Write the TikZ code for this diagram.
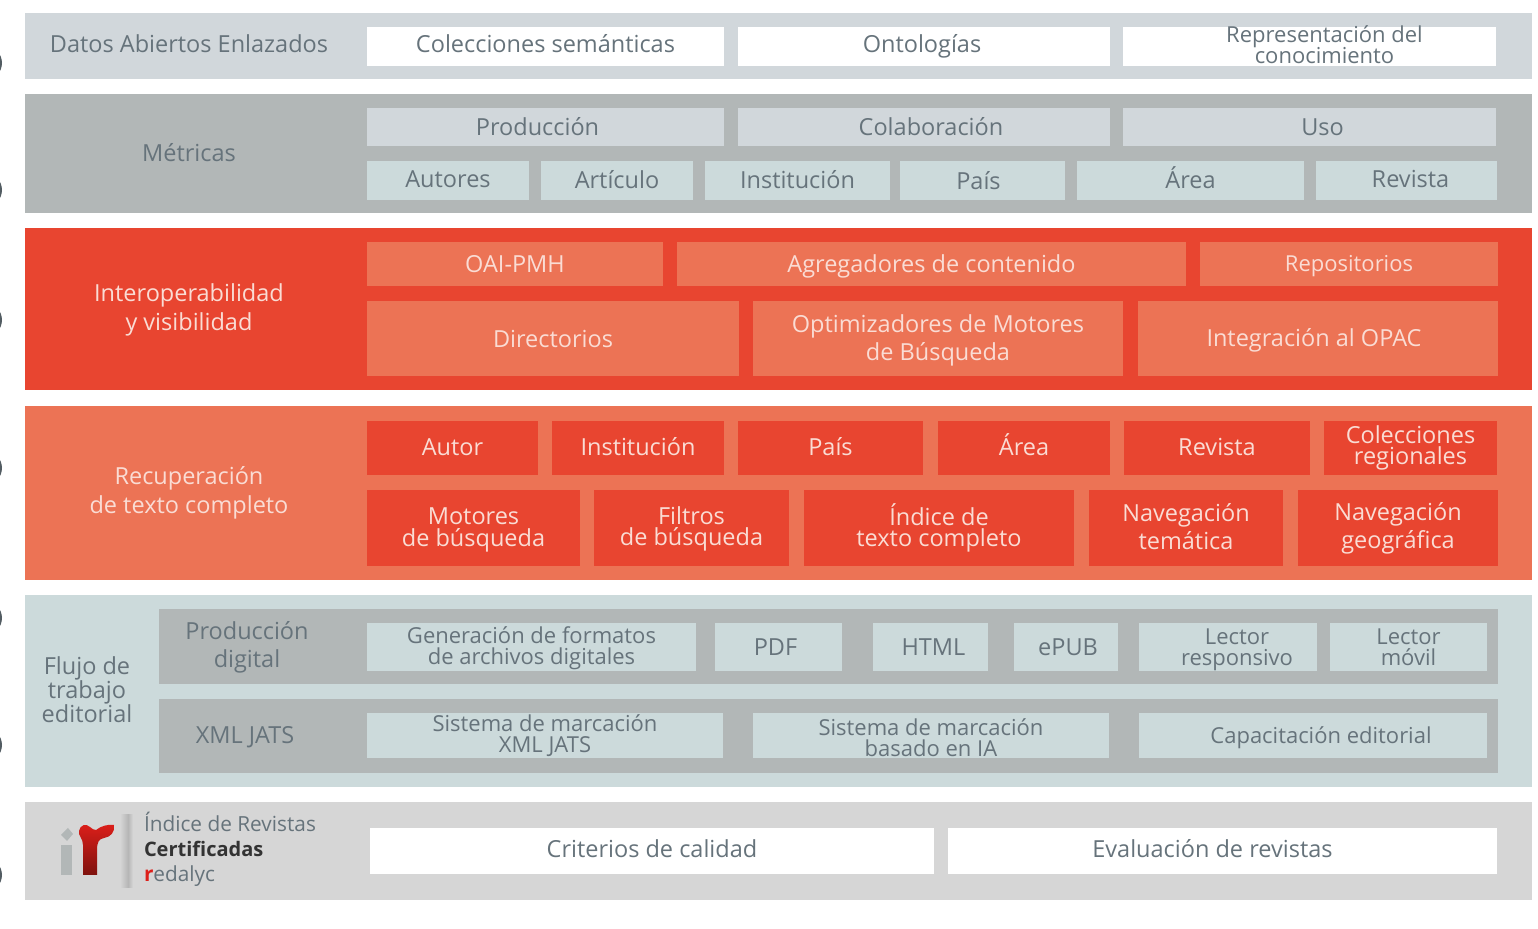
\documentclass[tikz,border=0pt]{standalone}
\usepackage{fontspec}
\setmainfont{Open Sans}
\lineskiplimit=-20pt
\definecolor{dataBand}{HTML}{D1D7DB}
\definecolor{metricBand}{HTML}{B2B7B7}
\definecolor{paleBlue}{HTML}{CCDADB}
\definecolor{redBand}{HTML}{E84530}
\definecolor{salmonBand}{HTML}{EC7355}
\definecolor{certBand}{HTML}{D6D6D6}
\definecolor{textGrey}{HTML}{66737B}
\definecolor{logoRed}{HTML}{DD1F1A}
\definecolor{logoDark}{HTML}{7E120E}
\tikzstyle{board} = [x = .5pt, y = -.5pt]
\tikzstyle{cell} = [inner sep = 0pt, outer sep = 0pt, align = center, font=\fontsize{11.75}{10.6}\selectfont]
\tikzstyle{wideLeading} = [font=\fontsize{11.75}{14}\selectfont]
\tikzstyle{labelLeading} = [font=\fontsize{11.75}{14.7}\selectfont]
\tikzstyle{smallText} = [font=\fontsize{11}{10.6}\selectfont]
\tikzstyle{lightText} = [text=salmonBand!25]
\tikzstyle{darkText} = [text=textGrey]
\tikzstyle{grey} = [fill=white]
\tikzstyle{plainBand} = [fill=dataBand]
\tikzstyle{paleCell} = [fill=paleBlue]
\tikzstyle{metric} = [fill=metricBand]
\tikzstyle{hotCell} = [fill=redBand]
\tikzstyle{softCell} = [fill=salmonBand]
\tikzstyle{certCell} = [fill=certBand]
\tikzstyle{logoText} = [cell, anchor = west, font=\fontsize{10.4}{12}\selectfont]
% band or box, no text
\newcommand{\bandBox}[6]{\node [cell, #6, minimum width = {(#4-#2)*.5pt}, minimum height = {(#5-#3)*.5pt}] (#1) at ({(#2+#4)/2}, {(#3+#5)/2}) {};}
% box with its text; first argument nudges the text
\newcommand{\cellBox}[8][0,0]{\bandBox{#2}{#3}{#4}{#5}{#6}{#7}
  \node [cell, #7, fill=none] (#2Text) at ([shift={(#1)}]#2.center) {#8};}
\newcommand{\sideMark}[1]{\fill [textGrey!80!black] (-15, #1) circle (17);}
\begin{document}
\begin{tikzpicture}[board]
\useasboundingbox (0,0) rectangle (1538,929);
\foreach \markY in {63,190,320,468,618,745,875} {
  \sideMark{\markY}
}
% datos abiertos
\bandBox{dataRow}{25}{13}{1532}{79}{plainBand}
\node [cell, darkText] (dataLabel) at (189,44) {Datos Abiertos Enlazados};
\cellBox[0,-3]{semantic}{367}{27}{724}{66}{grey, darkText}{Colecciones semánticas}
\cellBox[-2,0]{ontology}{738}{27}{1110}{66}{grey, darkText}{Ontologías}
\cellBox[15,-2]{knowledge}{1123}{27}{1496}{66}{grey, smallText, darkText}{Representación del\\conocimiento}
% metricas
\bandBox{metricRow}{25}{94}{1532}{213}{metric}
\node [cell, darkText] (metricLabel) at (189,153) {Métricas};
\cellBox[-8,0]{production}{367}{108}{724}{146}{plainBand, darkText}{Producción}
\cellBox[7,0]{collaboration}{738}{108}{1110}{146}{plainBand, darkText}{Colaboración}
\cellBox[13,0]{usage}{1123}{108}{1496}{146}{plainBand, darkText}{Uso}
\cellBox[0,-1]{authors}{367}{161}{529}{200}{paleCell, darkText}{Autores}
\cellBox[0,-1]{article}{541}{161}{693}{200}{paleCell, darkText}{Artículo}
\cellBox[0,-1]{institution}{705}{161}{890}{200}{paleCell, darkText}{Institución}
\cellBox[-4,0]{country}{900}{161}{1065}{200}{paleCell, darkText}{País}
\cellBox[0,-3]{area}{1077}{161}{1304}{200}{paleCell, darkText}{Área}
\cellBox[4,-1]{journal}{1316}{161}{1497}{200}{paleCell, darkText}{Revista}
% interoperabilidad
\bandBox{interRow}{25}{228}{1532}{390}{hotCell}
\node [cell, labelLeading, lightText] (interLabel) at (189,310) {Interoperabilidad\\y visibilidad};
\cellBox{oai}{367}{242}{663}{286}{softCell, lightText}{OAI-PMH}
\cellBox[0,2]{aggregators}{677}{242}{1186}{286}{softCell, lightText}{Agregadores de contenido}
\cellBox[0,2]{repositories}{1200}{242}{1498}{286}{softCell, smallText, lightText}{Repositorios}
\cellBox{directories}{367}{301}{739}{376}{softCell, lightText}{Directorios}
\cellBox[0,2]{optimizers}{753}{301}{1123}{376}{softCell, wideLeading, lightText}{Optimizadores de Motores\\de Búsqueda}
\cellBox[-4,2]{opac}{1138}{301}{1498}{376}{softCell, lightText}{Integración al OPAC}
% recuperacion
\bandBox{fullRow}{25}{406}{1532}{580}{softCell}
\node [cell, labelLeading, lightText] (fullLabel) at (189,493) {Recuperación\\de texto completo};
\cellBox[0,-1]{author}{367}{421}{538}{475}{hotCell, lightText}{Autor}
\cellBox[0,-1]{institutionB}{552}{421}{724}{475}{hotCell, lightText}{Institución}
\cellBox[0,-1]{countryB}{738}{421}{923}{475}{hotCell, lightText}{País}
\cellBox[0,-3]{areaB}{938}{421}{1110}{475}{hotCell, lightText}{Área}
\cellBox[0,-1]{journalB}{1124}{421}{1310}{475}{hotCell, lightText}{Revista}
\cellBox{collections}{1324}{421}{1497}{475}{hotCell, lightText}{Colecciones\\regionales}
\cellBox[0,2]{engines}{367}{490}{580}{566}{hotCell, lightText}{Motores\\de búsqueda}
\cellBox[0,1]{filters}{594}{490}{789}{566}{hotCell, lightText}{Filtros\\de búsqueda}
\cellBox{index}{804}{490}{1074}{566}{hotCell, lightText}{Índice de\\texto completo}
\cellBox[0,-1]{thematic}{1089}{490}{1283}{566}{hotCell, wideLeading, lightText}{Navegación\\temática}
\cellBox{geographic}{1298}{490}{1498}{566}{hotCell, wideLeading, lightText}{Navegación\\geográfica}
% flujo de trabajo
\bandBox{flowRow}{25}{595}{1532}{787}{paleCell}
\node [cell, font=\fontsize{11.75}{12}\selectfont, darkText] (flowLabel) at (87,690) {Flujo de\\trabajo\\editorial};
\bandBox{digitalRow}{159}{609}{1498}{684}{metric}
\bandBox{jatsRow}{159}{699}{1498}{773}{metric}
\node [cell, wideLeading, darkText] (digitalLabel) at (247,647) {Producción\\digital};
\node [cell, darkText] (jatsLabel) at (245,737) {XML JATS};
\cellBox[0,1]{formats}{367}{623}{696}{671}{paleCell, smallText, darkText}{Generación de formatos\\de archivos digitales}
\cellBox[-3,0]{pdf}{715}{623}{842}{671}{paleCell, darkText}{PDF}
\cellBox[3,0]{html}{873}{623}{988}{671}{paleCell, darkText}{HTML}
\cellBox[2,0]{epub}{1014}{623}{1118}{671}{paleCell, darkText}{ePUB}
\cellBox[9,3]{responsive}{1139}{623}{1317}{671}{paleCell, smallText, darkText}{Lector\\responsivo}
\cellBox{mobile}{1330}{623}{1487}{671}{paleCell, smallText, darkText}{Lector\\móvil}
\cellBox{markup}{367}{713}{723}{758}{paleCell, smallText, darkText}{Sistema de marcación\\XML JATS}
\cellBox[0,2]{markupAI}{753}{713}{1109}{758}{paleCell, smallText, darkText}{Sistema de marcación\\basado en IA}
\cellBox[8,2]{training}{1139}{713}{1487}{758}{paleCell, smallText, darkText}{Capacitación editorial}
% certificadas
\bandBox{certRow}{25}{802}{1532}{900}{certCell}
\cellBox[0,-2]{quality}{370}{828}{934}{874}{grey, darkText}{Criterios de calidad}
\cellBox[-10,-2]{evaluation}{948}{828}{1497}{874}{grey, darkText}{Evaluación de revistas}
% logo
\fill [metricBand] (61,835) -- (68,828) -- (73,834) -- (67,841) -- cycle;
\fill [metricBand] (61,845) rectangle (72,875);
\shade [top color=logoRed, middle color=logoRed, bottom color=logoDark] (83,875) -- (83,845) .. controls (83,838) and (78,836) .. (79,831) .. controls (80,825) and (86,823) .. (90,827) .. controls (92,829) and (94,830) .. (96,830) .. controls (101,826) and (108,824) .. (114,825) .. controls (115,832) and (111,837) .. (104,838) .. controls (99,839) and (97,842) .. (97,850) -- (97,875) -- cycle;
\shade [left color=certBand, right color=certBand!85!black] (120,815) rectangle (128,888);
\shade [left color=certBand!85!black, right color=certBand] (128,815) rectangle (133,888);
\node [logoText, darkText] (certTitle) at (144,822) {Índice de Revistas};
\node [logoText, font=\bfseries, text=black!80] (certBold) at (144,849) {Certificadas};
\node [logoText, darkText] (certName) at (144,876) {\textcolor{logoRed}{\bfseries r}edalyc};
\end{tikzpicture}
\end{document}
